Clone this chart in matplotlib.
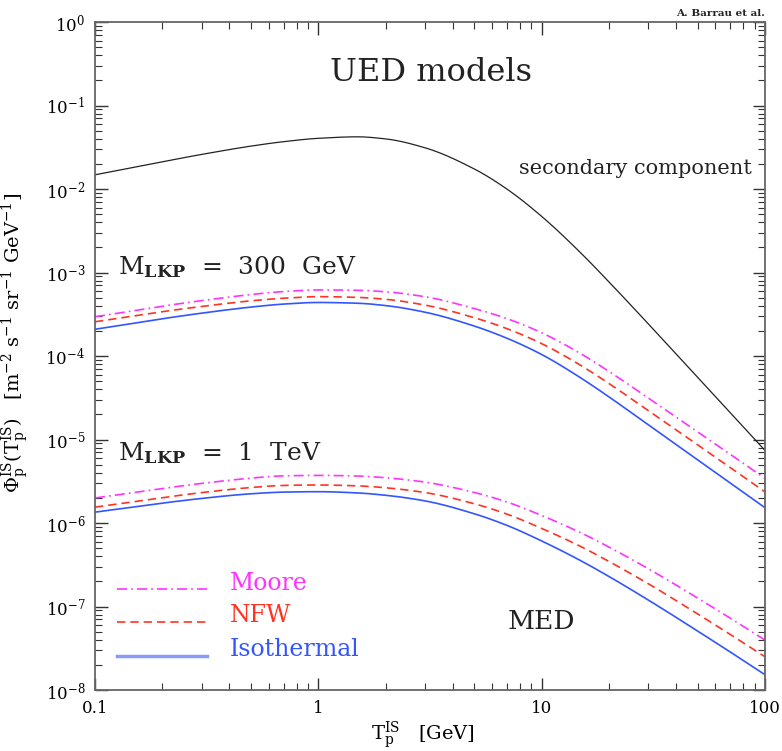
import numpy as np
import matplotlib
matplotlib.use("Agg")
import matplotlib.pyplot as plt
from matplotlib.ticker import LogLocator, FixedLocator, FixedFormatter, NullFormatter

plt.rcParams['font.family'] = ['DejaVu Serif']
plt.rcParams['mathtext.fontset'] = 'dejavuserif'

# Kinetic energy grid [GeV]
T = [0.1, 0.2, 0.3, 0.5, 0.7, 1, 1.5, 2, 3, 5, 7, 10, 15, 20, 30, 50, 70, 100]

# log10 of fluxes
secondary_log = [-1.830, -1.674, -1.586, -1.486, -1.433, -1.393, -1.375, -1.400, -1.506,
                 -1.761, -2.002, -2.328, -2.768, -3.112, -3.614, -4.258, -4.681, -5.131]

moore300_log = [-3.530, -3.404, -3.337, -3.264, -3.228, -3.209, -3.213, -3.231, -3.290,
                -3.432, -3.553, -3.722, -3.974, -4.184, -4.503, -4.910, -5.177, -5.467]
nfw300_log = [-3.590, -3.469, -3.407, -3.339, -3.308, -3.289, -3.298, -3.321, -3.390,
              -3.542, -3.673, -3.852, -4.114, -4.329, -4.653, -5.065, -5.337, -5.627]
iso300_log = [-3.680, -3.554, -3.487, -3.414, -3.378, -3.359, -3.368, -3.396, -3.475,
              -3.642, -3.788, -3.982, -4.264, -4.489, -4.823, -5.245, -5.522, -5.817]

moore1T_log = [-5.700, -5.587, -5.526, -5.463, -5.435, -5.430, -5.437, -5.458, -5.510,
               -5.635, -5.749, -5.910, -6.118, -6.288, -6.547, -6.900, -7.141, -7.402]
nfw1T_log = [-5.810, -5.697, -5.636, -5.575, -5.550, -5.545, -5.555, -5.578, -5.635,
             -5.770, -5.894, -6.065, -6.283, -6.460, -6.727, -7.090, -7.336, -7.602]
iso1T_log = [-5.870, -5.762, -5.706, -5.650, -5.630, -5.625, -5.640, -5.668, -5.735,
             -5.890, -6.029, -6.215, -6.453, -6.640, -6.922, -7.295, -7.546, -7.817]

xtick_vals = [0.1, 1, 10, 100]
xtick_labels = ["0.1", "1", "10", "100"]

c_moore = "#ff33ff"
c_nfw = "#ff3322"
c_iso = "#3355ff"


def pchip(x, y, xs):
    x = np.asarray(x, float)
    y = np.asarray(y, float)
    h = np.diff(x)
    d = np.diff(y) / h
    n = len(x)
    m = np.zeros(n)
    for k in range(1, n - 1):
        if d[k - 1] * d[k] <= 0:
            m[k] = 0.0
        else:
            w1 = 2 * h[k] + h[k - 1]
            w2 = h[k] + 2 * h[k - 1]
            m[k] = (w1 + w2) / (w1 / d[k - 1] + w2 / d[k])
    m[0] = d[0]
    m[-1] = d[-1]
    idx = np.clip(np.searchsorted(x, xs) - 1, 0, n - 2)
    t = (xs - x[idx]) / h[idx]
    h00 = 2 * t**3 - 3 * t**2 + 1
    h10 = t**3 - 2 * t**2 + t
    h01 = -2 * t**3 + 3 * t**2
    h11 = t**3 - t**2
    return h00 * y[idx] + h10 * h[idx] * m[idx] + h01 * y[idx + 1] + h11 * h[idx] * m[idx + 1]


def curve(x, ylog, n=500):
    lx = np.log10(np.asarray(x, float))
    xs = np.linspace(lx[0], lx[-1], n)
    ys = pchip(lx, ylog, xs)
    return 10 ** xs, 10 ** ys


fig = plt.figure(figsize=(7.82, 7.51), dpi=100)
ax = fig.add_axes([95 / 782, 1 - 690 / 751, 670 / 782, 668 / 751])

x, y = curve(T, secondary_log)
ax.plot(x, y, color="#222222", lw=0.9)

dashdot = (0, (6, 2.5, 1, 2.5))
dashed = (0, (5, 3))
for ylog, col, ls in [(moore300_log, c_moore, dashdot),
                      (nfw300_log, c_nfw, dashed),
                      (iso300_log, c_iso, "-"),
                      (moore1T_log, c_moore, dashdot),
                      (nfw1T_log, c_nfw, dashed),
                      (iso1T_log, c_iso, "-")]:
    x, y = curve(T, ylog)
    ax.plot(x, y, color=col, lw=1.2, linestyle=ls)

ax.set_xscale("log")
ax.set_yscale("log")
ax.set_xlim(0.1, 100)
ax.set_ylim(1e-8, 1)

ax.xaxis.set_major_locator(FixedLocator(xtick_vals))
ax.xaxis.set_major_formatter(FixedFormatter(xtick_labels))
ax.xaxis.set_minor_locator(LogLocator(base=10, subs=np.arange(2, 10), numticks=20))
ax.xaxis.set_minor_formatter(NullFormatter())
ax.yaxis.set_major_locator(LogLocator(base=10, numticks=20))
ax.yaxis.set_minor_locator(LogLocator(base=10, subs=np.arange(2, 10), numticks=20))
ax.yaxis.set_minor_formatter(NullFormatter())

ax.tick_params(which="both", direction="in", top=True, right=True, color="#333333")
ax.tick_params(which="major", length=9, width=1.0, labelsize=12, pad=7)
ax.tick_params(which="minor", length=5, width=0.8)
for s in ax.spines.values():
    s.set_color("#666666")
    s.set_linewidth(1.3)

ax.set_xlabel(r"T$_\mathrm{p}^\mathrm{IS}$   [GeV]", fontsize=14)
ax.xaxis.set_label_coords(0.49, -0.045)
ax.set_ylabel(r"$\Phi_\mathrm{p}^\mathrm{IS}$(T$_\mathrm{p}^\mathrm{IS}$)   [m$^{-2}$ s$^{-1}$ sr$^{-1}$ GeV$^{-1}$]",
              fontsize=14)
ax.yaxis.set_label_coords(-0.095, 0.52)

ax.text(0.5015, 0.924, "UED models", transform=ax.transAxes, fontsize=23,
        ha="center", va="center", color="#222222")
ax.text(0.981, 0.781, "secondary component", transform=ax.transAxes, fontsize=15,
        ha="right", va="center", color="#222222")
ax.text(0.034, 0.633, r"M$_\mathbf{LKP}$  =  300  GeV", transform=ax.transAxes,
        fontsize=18, ha="left", va="center", color="#222222")
ax.text(0.034, 0.355, r"M$_\mathbf{LKP}$  =  1  TeV", transform=ax.transAxes,
        fontsize=18, ha="left", va="center", color="#222222")
ax.text(0.666, 0.102, "MED", transform=ax.transAxes, fontsize=19,
        ha="center", va="center", color="#222222")
ax.text(1.0, 1.012, "A. Barrau et al.", transform=ax.transAxes, fontsize=7.5,
        ha="right", va="center", fontweight="bold", color="#222222")

# legend
leg = [("Moore", c_moore, dashdot, 0.151, 0.160, 1.2),
       ("NFW", c_nfw, dashed, 0.102, 0.111, 1.2),
       ("Isothermal", "#8899ff", "-", 0.051, 0.061, 2.5)]
for lab, col, ls, ly, ty, lw in leg:
    ax.plot([0.033, 0.167], [ly, ly], transform=ax.transAxes, color=col,
            linestyle=ls, lw=lw)
    tc = c_iso if lab == "Isothermal" else col
    ax.text(0.2015, ty, lab, transform=ax.transAxes, fontsize=17, color=tc,
            ha="left", va="center")

fig.savefig("out.png", dpi=100)
